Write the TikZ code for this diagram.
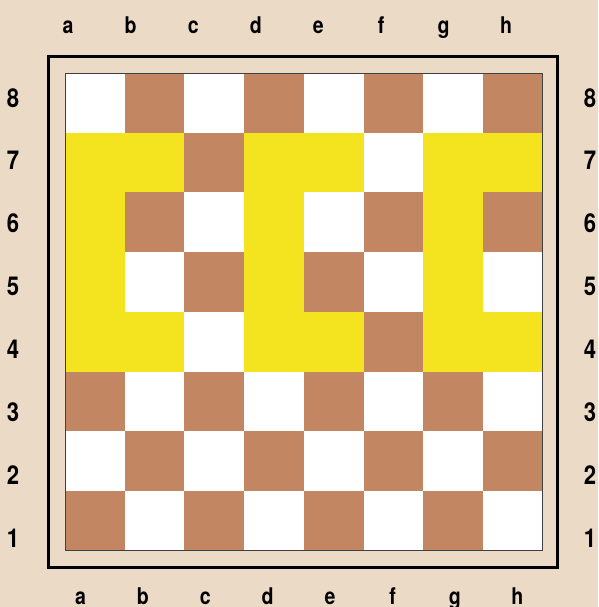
\documentclass[tikz,border=0pt]{standalone}
\usepackage{fontspec}
\newfontfamily\boardfont[FakeStretch=0.85]{TeX Gyre Heros}
\definecolor{paper}{RGB}{234,218,198}
\definecolor{darksq}{RGB}{194,134,98}
\definecolor{marked}{RGB}{244,228,32}

\begin{document}
\begin{tikzpicture}[x=1pt,y=-1pt,
    filelabel/.style={font=\boardfont\bfseries\fontsize{23}{23}\selectfont, inner sep=0pt, anchor=base},
    ranklabel/.style={font=\boardfont\bfseries\fontsize{26}{26}\selectfont, inner sep=0pt, anchor=base}]
  \fill[paper] (0,0) rectangle (598,607);
  \useasboundingbox (0,0) rectangle (598,607);
  % squares, a1 at the lower left
  \foreach \f in {0,...,7}
    \foreach \r in {1,...,8} {
      \pgfmathtruncatemacro\odd{mod(\f+\r,2)}
      \ifnum\odd=1
        \fill[darksq] (65+\f*59.7,73+8*59.7-\r*59.7) rectangle ++(59.7,59.7);
      \else
        \fill[white] (65+\f*59.7,73+8*59.7-\r*59.7) rectangle ++(59.7,59.7);
      \fi
    }
  % the three yellow C shapes
  \foreach \f in {0,3,6} {
    \fill[marked] (65+\f*59.7,73+59.7) rectangle ++(59.7,4*59.7);
    \fill[marked] (65+\f*59.7+59.7,73+59.7) rectangle ++(59.7,59.7);
    \fill[marked] (65+\f*59.7+59.7,73+4*59.7) rectangle ++(59.7,59.7);
  }
  \draw[line width=0.8pt, black!75] (65,73) rectangle (65+8*59.7,73+8*59.7);
  \draw[line width=3pt] (48,57) rectangle (557,567);
  % file and rank labels
  \foreach \l [count=\i from 0] in {a,b,c,d,e,f,g,h} {
    \node[filelabel] (top\l) at (68+\i*62.6,34) {\l};
    \node[filelabel] (bot\l) at (80.5+\i*62.4,604) {\l};
  }
  \foreach \r in {1,...,8} {
    \node[ranklabel] (left\r) at (13,107+8*62.9-\r*62.9) {\r};
    \node[ranklabel] (right\r) at (590,107+8*62.9-\r*62.9) {\r};
  }
\end{tikzpicture}
\end{document}
